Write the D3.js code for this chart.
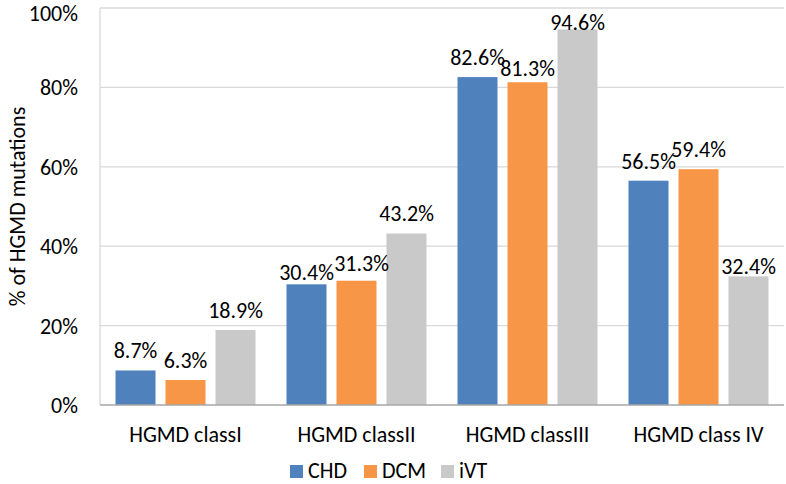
<!DOCTYPE html>
<html>
<head>
<meta charset="utf-8">
<script src="https://cdn.jsdelivr.net/npm/d3@7"></script>
<style>
  body { margin: 0; background: #fff; }
  svg text { font-family: Carlito, "Liberation Sans", Arial, sans-serif; fill: #000; }
</style>
</head>
<body>
<svg id="chart" width="786" height="484"></svg>
<script>
const categories = ["HGMD classI", "HGMD classII", "HGMD classIII", "HGMD class IV"];
const seriesNames = ["CHD", "DCM", "iVT"];
const CHD = [8.7, 30.4, 82.6, 56.5];
const DCM = [6.3, 31.3, 81.3, 59.4];
const iVT = [18.9, 43.2, 94.6, 32.4];
const yTicks = [0, 20, 40, 60, 80, 100];
const colors = ["#4F81BD", "#F79646", "#C9C9C9"];
// label nudges (layout only): extra vertical drop / horizontal shift for overlapped labels
const labelDrop = [[0, 0, 0], [8, 2, 0], [0, 6, 13], [0, 0, 10]];
const labelShift = [[0, 0, 0], [0, 5, 0], [0, 0, 0], [0, 0, 0]];

const values = [CHD, DCM, iVT];
const FS = 22;
const svg = d3.select("#chart");
const m = { left: 100, right: 2, top: 8, bottom: 79 };
const W = 786, H = 484;
const x0 = d3.scaleBand().domain(categories).range([m.left, W - m.right]).paddingInner(0).paddingOuter(0);
const x1 = d3.scaleBand().domain(seriesNames).range([15.5, x0.bandwidth() - 15.5]).paddingInner(0.2).paddingOuter(0);
const y = d3.scaleLinear().domain([0, 100]).range([H - m.bottom, m.top]);

// gridlines
svg.append("g").selectAll("line").data(yTicks.filter(d => d > 0)).join("line")
  .attr("x1", m.left).attr("x2", W - m.right)
  .attr("y1", d => y(d)).attr("y2", d => y(d))
  .attr("stroke", "#D9D9D9").attr("stroke-width", 1.3);

// y axis line
svg.append("line").attr("x1", m.left).attr("x2", m.left)
  .attr("y1", y(100)).attr("y2", y(0)).attr("stroke", "#D9D9D9").attr("stroke-width", 1.3);

// y ticks (top label kept inside the canvas)
svg.append("g").selectAll("text").data(yTicks).join("text")
  .attr("x", 78).attr("y", d => Math.max(y(d), 13)).attr("dy", "0.36em")
  .attr("text-anchor", "end").attr("font-size", FS)
  .text(d => d + "%");

// bars
const groups = svg.append("g").selectAll("g").data(categories).join("g")
  .attr("transform", c => `translate(${x0(c)},0)`);
groups.each(function(c, ci) {
  const g = d3.select(this);
  seriesNames.forEach((s, si) => {
    const v = values[si][ci];
    g.append("rect")
      .attr("x", x1(s)).attr("width", x1.bandwidth())
      .attr("y", y(v)).attr("height", y(0) - y(v))
      .attr("fill", colors[si]);
  });
  seriesNames.forEach((s, si) => {
    const v = values[si][ci];
    g.append("text")
      .attr("x", x1(s) + x1.bandwidth() / 2 + labelShift[ci][si])
      .attr("y", y(v) - 12 + labelDrop[ci][si])
      .attr("text-anchor", "middle").attr("font-size", FS)
      .text(v.toFixed(1) + "%");
  });
});

// x axis line
svg.append("line").attr("x1", m.left).attr("x2", W - m.right)
  .attr("y1", y(0)).attr("y2", y(0)).attr("stroke", "#A6A6A6").attr("stroke-width", 1.3);

// category labels
svg.append("g").selectAll("text").data(categories).join("text")
  .attr("x", c => x0(c) + x0.bandwidth() / 2).attr("y", 442)
  .attr("text-anchor", "middle").attr("font-size", FS)
  .text(c => c);

// y axis title
svg.append("text")
  .attr("transform", `translate(25,${(y(0) + y(100)) / 2}) rotate(-90)`)
  .attr("text-anchor", "middle").attr("font-size", FS)
  .text("% of HGMD mutations");

// legend
const legendX = [290, 364, 441];
const leg = svg.append("g").selectAll("g").data(seriesNames).join("g")
  .attr("transform", (d, i) => `translate(${legendX[i]},465)`);
leg.append("rect").attr("width", 13).attr("height", 13).attr("fill", (d, i) => colors[i]);
leg.append("text").attr("x", 18).attr("y", 13).attr("font-size", FS).text(d => d);
</script>
</body>
</html>
